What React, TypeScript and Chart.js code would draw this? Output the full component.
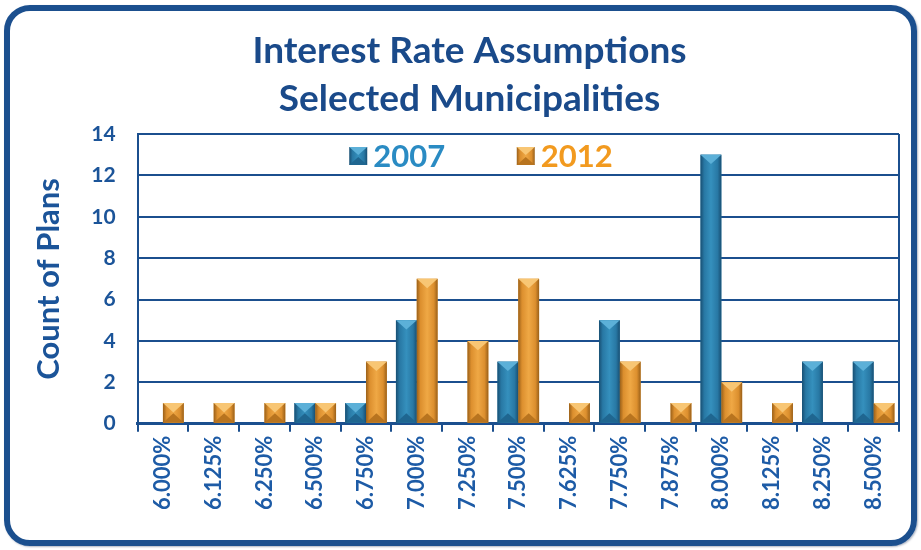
import React, { useEffect, useRef } from 'react';
import { Chart, registerables } from 'chart.js';

Chart.register(...registerables);

// Assumed interest rate buckets and number of plans per bucket
const rateLabels = [
  '6.000%', '6.125%', '6.250%', '6.500%', '6.750%', '7.000%', '7.250%', '7.500%',
  '7.625%', '7.750%', '7.875%', '8.000%', '8.125%', '8.250%', '8.500%',
];
const plans2007 = [0, 0, 0, 1, 1, 5, 0, 3, 0, 5, 0, 13, 0, 3, 3];
const plans2012 = [1, 1, 1, 1, 3, 7, 4, 7, 1, 3, 1, 2, 1, 0, 1];
const seriesNames = ['2007', '2012'];
const titleLines = ['Interest Rate Assumptions', 'Selected Municipalities'];
const yAxisTitle = 'Count of Plans';

const NAVY = '#1B4F8E';
const FONT = 'Lato, "Open Sans", sans-serif';

type Palette = { dark: string; mid: string; light: string; cap: string; foot: string; base: string; text: string };

const palettes: Palette[] = [
  { dark: '#184f73', mid: '#2878a4', light: '#3590bd', cap: '#5cb0d8', foot: '#1f6690', base: '#2a7eaa', text: '#2a8bc3' },
  { dark: '#9a6019', mid: '#dc8f2e', light: '#efa845', cap: '#f8c674', foot: '#b8741f', base: '#e59a35', text: '#f29a1f' },
];

// Paints a bevelled, pyramid-capped block inside the given rectangle
function drawBevel(ctx: CanvasRenderingContext2D, l: number, t: number, r: number, b: number, p: Palette) {
  const w = r - l;
  const h = b - t;
  if (w < 0.5 || h < 0.5) return;
  ctx.save();
  const g = ctx.createLinearGradient(l, 0, r, 0);
  g.addColorStop(0, p.dark);
  g.addColorStop(0.18, p.mid);
  g.addColorStop(0.5, p.light);
  g.addColorStop(0.82, p.mid);
  g.addColorStop(1, p.dark);
  ctx.fillStyle = g;
  ctx.fillRect(l, t, w, h);
  const d = Math.min(w * 0.45, h / 2);
  const cx = l + w / 2;
  // top facet
  ctx.beginPath();
  ctx.moveTo(l, t);
  ctx.lineTo(r, t);
  ctx.lineTo(cx, t + d);
  ctx.closePath();
  ctx.fillStyle = p.cap;
  ctx.fill();
  // bottom facet
  ctx.beginPath();
  ctx.moveTo(l, b);
  ctx.lineTo(r, b);
  ctx.lineTo(cx, b - d);
  ctx.closePath();
  ctx.fillStyle = p.foot;
  ctx.fill();
  ctx.restore();
}

const bevelBars = {
  id: 'bevelBars',
  afterDatasetsDraw(chart: any) {
    const ctx = chart.ctx as CanvasRenderingContext2D;
    chart.data.datasets.forEach((_: any, di: number) => {
      const meta = chart.getDatasetMeta(di);
      meta.data.forEach((el: any) => {
        const { x, y, base, width } = el.getProps(['x', 'y', 'base', 'width'], true);
        const top = Math.min(y, base);
        const bottom = Math.max(y, base);
        drawBevel(ctx, x - width / 2, top, x + width / 2, bottom, palettes[di]);
      });
    });
  },
};

// Two-line heading, set a little right of the canvas centre
const heading = {
  id: 'heading',
  afterDraw(chart: any) {
    const ctx = chart.ctx as CanvasRenderingContext2D;
    ctx.save();
    ctx.font = `bold 37px ${FONT}`;
    ctx.fillStyle = '#1A4A8A';
    ctx.textAlign = 'center';
    ctx.textBaseline = 'middle';
    const cx = chart.width / 2 + 9;
    titleLines.forEach((line, i) => ctx.fillText(line, cx, 51 + i * 48));
    ctx.restore();
  },
};

const frameAndLegend = {
  id: 'frameAndLegend',
  afterDraw(chart: any) {
    const ctx = chart.ctx as CanvasRenderingContext2D;
    const a = chart.chartArea;
    ctx.save();
    // right edge of the plot frame
    ctx.strokeStyle = NAVY;
    ctx.lineWidth = 2;
    ctx.beginPath();
    ctx.moveTo(a.right, a.top);
    ctx.lineTo(a.right, a.bottom);
    ctx.stroke();

    // legend entries inside the plot
    const w = a.right - a.left;
    const spots = [0.278, 0.498];
    const cy = a.top + 22;
    chart.data.datasets.forEach((ds: any, i: number) => {
      const x = a.left + spots[i] * w;
      drawBevel(ctx, x, cy - 9, x + 18, cy + 9, palettes[i]);
      ctx.font = `bold 31px ${FONT}`;
      ctx.fillStyle = palettes[i].text;
      ctx.textBaseline = 'middle';
      ctx.textAlign = 'left';
      ctx.fillText(ds.label, x + 24, cy + 1);
    });
    ctx.restore();
  },
};

export default function App() {
  const canvasRef = useRef<HTMLCanvasElement | null>(null);

  useEffect(() => {
    const canvas = canvasRef.current;
    if (!canvas) return;
    const chart = new Chart(canvas, {
      type: 'bar',
      data: {
        labels: rateLabels,
        datasets: [
          { label: seriesNames[0], data: plans2007, backgroundColor: palettes[0].base, categoryPercentage: 0.82, barPercentage: 1 },
          { label: seriesNames[1], data: plans2012, backgroundColor: palettes[1].base, categoryPercentage: 0.82, barPercentage: 1 },
        ],
      },
      options: {
        responsive: false,
        animation: false,
        devicePixelRatio: 1,
        layout: { padding: { top: 134, left: 20, right: 22, bottom: 36 } },
        plugins: {
          legend: { display: false },
          tooltip: { enabled: false },
          title: { display: false },
        },
        scales: {
          x: {
            grid: {
              display: true,
              drawOnChartArea: false,
              drawTicks: true,
              tickLength: 8,
              color: NAVY,
              lineWidth: 2,
              offset: true,
            },
            border: { display: true, color: NAVY, width: 3 },
            ticks: {
              autoSkip: false,
              maxRotation: 90,
              minRotation: 90,
              padding: 4,
              color: '#1D5BA6',
              font: { family: FONT, size: 22, weight: 'bold' },
            },
          },
          y: {
            min: 0,
            max: 14,
            ticks: {
              stepSize: 2,
              padding: 22,
              color: '#1B5499',
              font: { family: FONT, size: 21, weight: 'bold' },
            },
            grid: { color: NAVY, lineWidth: 2, drawTicks: false },
            border: { display: true, color: NAVY, width: 2 },
            title: {
              display: true,
              text: yAxisTitle,
              color: '#1B5499',
              font: { family: FONT, size: 31, weight: 'bold' },
              padding: { top: 10, bottom: 2 },
            },
          },
        },
      },
      plugins: [bevelBars, frameAndLegend, heading],
    });
    return () => chart.destroy();
  }, []);

  return (
    <div style={{ position: 'fixed', left: 0, top: 0, width: 921, height: 550, background: '#ffffff' }}>
      <div
        style={{
          position: 'absolute',
          left: 4,
          top: 5,
          width: 913,
          height: 541,
          boxSizing: 'border-box',
          border: `6px solid ${NAVY}`,
          borderRadius: 26,
          boxShadow: '1px 1px 2px rgba(20,40,80,0.35)',
        }}
      />
      <canvas ref={canvasRef} width={921} height={550} style={{ position: 'absolute', left: 0, top: 0 }} />
    </div>
  );
}
